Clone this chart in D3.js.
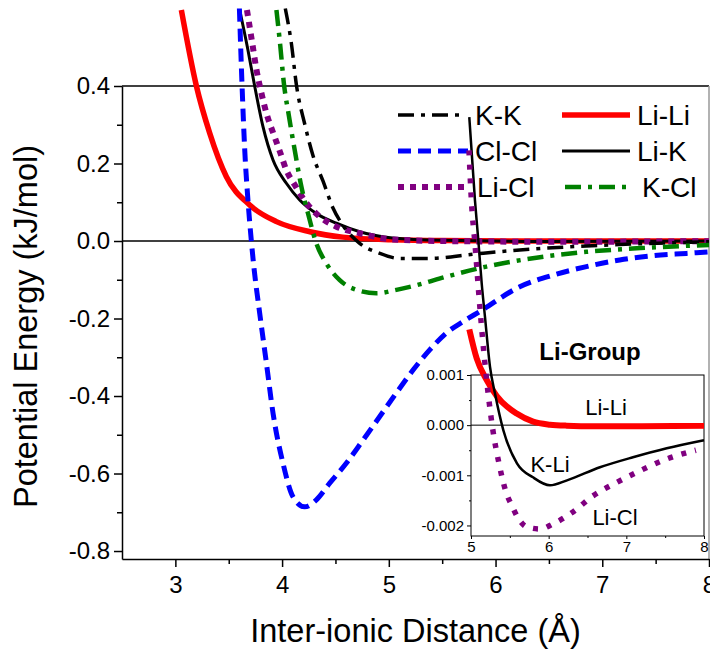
<!DOCTYPE html>
<html>
<head>
<meta charset="utf-8">
<script src="https://cdn.jsdelivr.net/npm/d3@7"></script>
<style>
  body { margin: 0; background: #fff; }
  text { font-family: Arial, "Liberation Sans", sans-serif; }
</style>
</head>
<body>
<div id="chart-container"></div>
<script>
// main plot data (x in Angstrom, y in kJ/mol)
const liliX = [3.056, 3.197, 3.321, 3.478, 3.696, 3.947, 4.26, 4.568, 5.036, 5.5, 6.5, 8]
const liliY = [0.596, 0.400, 0.279, 0.166, 0.093, 0.050, 0.024, 0.010, 0.003, 0.001, 0.0, 0.0]

const likX = [3.603, 3.68, 3.743, 3.821, 3.915, 4.04, 4.165, 4.321, 4.509, 4.727, 5.036, 5.5, 6.5, 8]
const likY = [0.596, 0.493, 0.400, 0.295, 0.209, 0.149, 0.106, 0.071, 0.046, 0.024, 0.008, 0.002, -0.001, -0.0003]

const liclX = [3.671, 3.718, 3.76, 3.806, 3.853, 3.931, 3.984, 4.04, 4.118, 4.228, 4.352, 4.509, 4.727, 5.036, 5.5, 6.5, 8]
const liclY = [0.596, 0.515, 0.442, 0.382, 0.330, 0.268, 0.227, 0.183, 0.145, 0.098, 0.063, 0.037, 0.020, 0.004, 0.0, -0.002, -0.0005]

const kkX = [4.03, 4.087, 4.134, 4.212, 4.29, 4.383, 4.477, 4.571, 4.727, 4.915, 5.102, 5.383, 5.789, 6.227, 6.696, 7.164, 8.0]
const kkY = [0.600, 0.510, 0.403, 0.302, 0.220, 0.155, 0.085, 0.040, -0.006, -0.032, -0.045, -0.045, -0.034, -0.023, -0.015, -0.009, -0.002]

const clclX = [3.60, 3.625, 3.65, 3.68, 3.712, 3.733, 3.79, 3.853, 3.915, 4.008, 4.102, 4.212, 4.321, 4.446, 4.603, 4.758, 4.915, 5.071, 5.227, 5.383, 5.54, 5.695, 5.852, 6.227, 6.539, 6.852, 7.163, 7.476, 7.789, 8.0]
const clclY = [0.600, 0.400, 0.235, 0.106, 0.0, -0.06, -0.186, -0.315, -0.444, -0.573, -0.660, -0.686, -0.668, -0.625, -0.573, -0.514, -0.453, -0.392, -0.333, -0.281, -0.237, -0.208, -0.182, -0.118, -0.088, -0.066, -0.049, -0.038, -0.032, -0.028]

const kclX = [3.947, 3.984, 4.015, 4.065, 4.118, 4.181, 4.243, 4.321, 4.415, 4.540, 4.696, 4.884, 5.071, 5.259, 5.540, 5.915, 6.383, 6.852, 7.321, 8.0]
const kclY = [0.596, 0.501, 0.411, 0.321, 0.235, 0.140, 0.071, -0.006, -0.058, -0.101, -0.126, -0.135, -0.126, -0.114, -0.092, -0.066, -0.043, -0.028, -0.019, -0.010]

// inset (Li-Group)
const insLiliX = [4.978, 5.073, 5.202, 5.331, 5.588, 5.80, 6.017, 6.23, 6.6, 7.2, 8.0]
const insLiliY = [0.00191, 0.00133, 0.00090, 0.00058, 0.00023, 0.00007, 0.00001, -0.00001, -0.00002, -0.00002, -0.00001]

const insKliX = [4.978, 5.051, 5.094, 5.138, 5.18, 5.245, 5.309, 5.416, 5.592, 5.798, 6.017, 6.236, 6.66, 7.085, 7.52, 8.0]
const insKliY = [0.00614, 0.00448, 0.00369, 0.00282, 0.00216, 0.00116, 0.00063, -0.0001, -0.00076, -0.00104, -0.0012, -0.0011, -0.00084, -0.00064, -0.00046, -0.0003]

const insLiclX = [4.974, 5.009, 5.051, 5.107, 5.171, 5.223, 5.279, 5.36, 5.45, 5.528, 5.605, 5.72, 5.888, 6.055, 6.313, 6.57, 6.879, 7.188, 7.51, 7.896]
const insLiclY = [0.00548, 0.00438, 0.00362, 0.00249, 0.00136, 0.00060, -0.00007, -0.00076, -0.00133, -0.00161, -0.00185, -0.00203, -0.00207, -0.00197, -0.00173, -0.00141, -0.00114, -0.0009, -0.00068, -0.0005]

const xTicks = [3, 4, 5, 6, 7, 8]
const xMinor = [3.5, 4.5, 5.5, 6.5, 7.5]
const yTicks = [-0.8, -0.6, -0.4, -0.2, 0.0, 0.2, 0.4]
const yMinor = [-0.7, -0.5, -0.3, -0.1, 0.1, 0.3]
const insXTicks = [5, 6, 7, 8]
const insXMinor = [5.5, 6.5, 7.5]
const insYTicks = [-0.002, -0.001, 0, 0.001]
const insYMinor = [-0.0015, -0.0005, 0.0005]

const width = 710
const height = 651

const svg = d3.select("#chart-container")
  .append("svg")
  .attr("width", width)
  .attr("height", height)

const x = d3.scaleLinear().domain([2.5, 8]).range([122, 709])
const y = d3.scaleLinear().domain([-0.8206, 0.4]).range([559, 86])

const xi = d3.scaleLinear().domain([5, 8]).range([471, 704])
const yi = d3.scaleLinear().domain([-0.00221, 0.001]).range([536, 375])

const zip = (xs, ys) => xs.map((v, i) => [v, ys[i]])

// frame: top line at 0.4, right edge, zero line
svg.append("line").attr("x1", x(2.5)).attr("x2", x(8)).attr("y1", y(0.4)).attr("y2", y(0.4))
  .attr("stroke", "#000").attr("stroke-width", 1.5)
svg.append("line").attr("x1", x(8)).attr("x2", x(8)).attr("y1", y(0.4)).attr("y2", y(-0.8206))
  .attr("stroke", "#999").attr("stroke-width", 1.5)
svg.append("line").attr("x1", x(2.5)).attr("x2", x(8)).attr("y1", y(0)).attr("y2", y(0))
  .attr("stroke", "#000").attr("stroke-width", 1.5)

// axes
function styleAxis(g, fs) {
  g.selectAll("path.domain").attr("stroke", "#000").attr("stroke-width", 1.5)
  g.selectAll(".tick line").attr("stroke", "#000").attr("stroke-width", 1.5)
  g.selectAll("text").attr("fill", "#000").style("font-size", fs + "px")
    .style("font-family", "Arial, 'Liberation Sans', sans-serif")
}

const gx = svg.append("g").attr("transform", `translate(0,${y(-0.8206)})`)
  .call(d3.axisBottom(x).tickValues(xTicks).tickSize(8).tickSizeOuter(0).tickPadding(9).tickFormat(d => d))
styleAxis(gx, 24)
const gxm = svg.append("g").attr("transform", `translate(0,${y(-0.8206)})`)
  .call(d3.axisBottom(x).tickValues(xMinor).tickSize(5).tickFormat(""))
gxm.select("path.domain").remove()
styleAxis(gxm, 24)

const gy = svg.append("g").attr("transform", `translate(${x(2.5)},0)`)
  .call(d3.axisLeft(y).tickValues(yTicks).tickSize(8).tickSizeOuter(0).tickPadding(4).tickFormat(d => d.toFixed(1)))
styleAxis(gy, 24)
const gym = svg.append("g").attr("transform", `translate(${x(2.5)},0)`)
  .call(d3.axisLeft(y).tickValues(yMinor).tickSize(5).tickFormat(""))
gym.select("path.domain").remove()
styleAxis(gym, 24)

svg.append("text")
  .attr("x", (x(2.5) + x(8)) / 2)
  .attr("y", 642)
  .attr("text-anchor", "middle")
  .style("font-size", "32.5px")
  .text("Inter-ionic Distance (Å)")

svg.append("text")
  .attr("transform", `translate(37,${(y(0.4) + y(-0.8206)) / 2 + 4}) rotate(-90)`)
  .attr("text-anchor", "middle")
  .style("font-size", "32.5px")
  .text("Potential Energy (kJ/mol)")

// main curves
const line = d3.line().x(d => x(d[0])).y(d => y(d[1])).curve(d3.curveMonotoneX)

const series = [
  { name: "Li-Li", data: zip(liliX, liliY), color: "#ff0000", w: 5.5, dash: null },
  { name: "Li-K", data: zip(likX, likY), color: "#000000", w: 3, dash: null },
  { name: "Li-Cl", data: zip(liclX, liclY), color: "#800080", w: 6, dash: "6,6" },
  { name: "K-K", data: zip(kkX, kkY), color: "#000000", w: 3.5, dash: "16,7,4,7" },
  { name: "Cl-Cl", data: zip(clclX, clclY), color: "#0000ff", w: 5, dash: "13,7" },
  { name: "K-Cl", data: zip(kclX, kclY), color: "#008000", w: 4.5, dash: "16,7,4,7" }
]

series.forEach(s => {
  svg.append("path")
    .datum(s.data)
    .attr("fill", "none")
    .attr("stroke", s.color)
    .attr("stroke-width", s.w)
    .attr("stroke-dasharray", s.dash)
    .attr("d", line)
})

// legend
const legendItems = [
  { s: "K-K", lx: 398, lx2: 462, tx: 475, ly: 115 },
  { s: "Cl-Cl", lx: 398, lx2: 468, tx: 475, ly: 151 },
  { s: "Li-Cl", lx: 398, lx2: 470, tx: 477, ly: 187 },
  { s: "Li-Li", lx: 562, lx2: 630, tx: 637, ly: 115 },
  { s: "Li-K", lx: 562, lx2: 630, tx: 637, ly: 151 },
  { s: "K-Cl", lx: 565, lx2: 628, tx: 642, ly: 187 }
]
legendItems.forEach(it => {
  const s = series.find(d => d.name === it.s)
  svg.append("line")
    .attr("x1", it.lx).attr("x2", it.lx2).attr("y1", it.ly).attr("y2", it.ly)
    .attr("stroke", s.color)
    .attr("stroke-width", s.w)
    .attr("stroke-dasharray", s.dash)
  svg.append("text")
    .attr("x", it.tx).attr("y", it.ly + 10)
    .style("font-size", "28px")
    .text(it.s)
})

// inset
svg.append("rect")
  .attr("x", xi(5)).attr("y", yi(0.001))
  .attr("width", xi(8) - xi(5)).attr("height", yi(-0.00221) - yi(0.001))
  .attr("fill", "none").attr("stroke", "#000").attr("stroke-width", 1)
svg.append("line").attr("x1", xi(5)).attr("x2", xi(8)).attr("y1", yi(0)).attr("y2", yi(0))
  .attr("stroke", "#000").attr("stroke-width", 1)

const gix = svg.append("g").attr("transform", `translate(0,${yi(-0.00221)})`)
  .call(d3.axisBottom(xi).tickValues(insXTicks).tickSize(3).tickSizeOuter(0).tickPadding(2).tickFormat(d => d))
const gixm = svg.append("g").attr("transform", `translate(0,${yi(-0.00221)})`)
  .call(d3.axisBottom(xi).tickValues(insXMinor).tickSize(2).tickFormat(""))
const giy = svg.append("g").attr("transform", `translate(${xi(5)},0)`)
  .call(d3.axisLeft(yi).tickValues(insYTicks).tickSize(4).tickSizeOuter(0).tickPadding(3).tickFormat(d => d.toFixed(3)))
const giym = svg.append("g").attr("transform", `translate(${xi(5)},0)`)
  .call(d3.axisLeft(yi).tickValues(insYMinor).tickSize(2).tickFormat(""))
;[gix, gixm, giy, giym].forEach(g => {
  g.selectAll("path.domain").remove()
  g.selectAll(".tick line").attr("stroke", "#000").attr("stroke-width", 1)
  g.selectAll("text").attr("fill", "#000").style("font-size", "15px")
})

const iline = d3.line().x(d => xi(d[0])).y(d => yi(d[1])).curve(d3.curveMonotoneX)
const insSeries = [
  { data: zip(insLiliX, insLiliY), color: "#ff0000", w: 6, dash: null },
  { data: zip(insKliX, insKliY), color: "#000000", w: 2.5, dash: null },
  { data: zip(insLiclX, insLiclY), color: "#800080", w: 5.5, dash: "5,9" }
]
insSeries.forEach(s => {
  svg.append("path")
    .datum(s.data)
    .attr("fill", "none")
    .attr("stroke", s.color)
    .attr("stroke-width", s.w)
    .attr("stroke-dasharray", s.dash)
    .attr("d", iline)
})

svg.append("text").attr("x", 590).attr("y", 360).attr("text-anchor", "middle")
  .style("font-size", "24px").style("font-weight", "bold").text("Li-Group")
svg.append("text").attr("x", 606).attr("y", 415).attr("text-anchor", "middle")
  .style("font-size", "22px").text("Li-Li")
svg.append("text").attr("x", 550).attr("y", 472).attr("text-anchor", "middle")
  .style("font-size", "22px").text("K-Li")
svg.append("text").attr("x", 615).attr("y", 525).attr("text-anchor", "middle")
  .style("font-size", "22px").text("Li-Cl")
</script>
</body>
</html>
